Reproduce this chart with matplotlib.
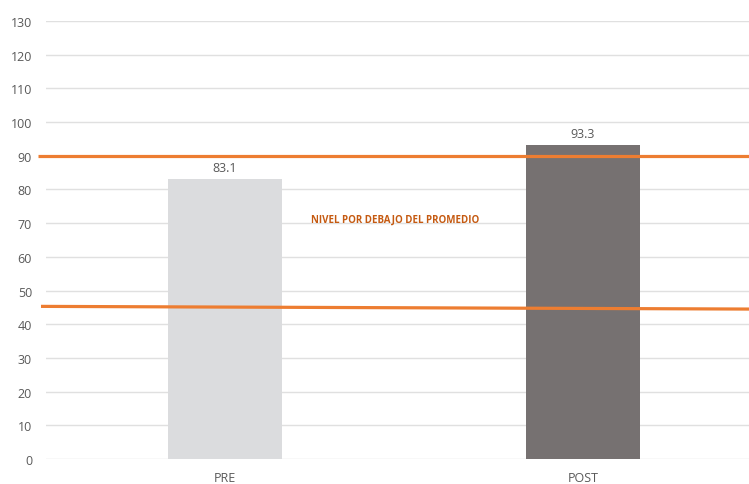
import numpy as np
import matplotlib.pyplot as plt

categories = ['PRE', 'POST']
values = [83.1, 93.3]
bar_colors = ['#DBDCDE', '#767171']

# orange reference lines (value at left end, value at right end)
upper_line = [89.8, 89.8]
lower_line = [45.3, 44.5]
note = 'NIVEL POR DEBAJO DEL PROMEDIO'

plt.rcParams['font.family'] = ['Open Sans', 'DejaVu Sans']

fig = plt.figure(figsize=(7.49, 4.85), dpi=100)
# axes runs slightly past the right edge, as in the source
ax = fig.add_axes([46/749, 25/485, 716/749, 438/485])

x = np.arange(len(categories))
bars = ax.bar(x, values, width=0.316, color=bar_colors, zorder=2)
for xi, v in zip(x, values):
    ax.text(xi, v + 1.5, f'{v:.1f}', ha='center', va='bottom',
            fontsize=9, color='#595959')

ax.set_xlim(-0.5, 1.5)
ax.set_ylim(0, 130)
ax.set_yticks(np.arange(0, 131, 10))
ax.set_xticks(x)
ax.set_xticklabels(categories)
ax.grid(axis='y', color='#E0E0E0', linewidth=1, zorder=0)
ax.set_axisbelow(True)
for s in ax.spines.values():
    s.set_visible(False)
ax.tick_params(axis='both', length=0, labelsize=9, colors='#595959')
ax.tick_params(axis='y', pad=10)
ax.tick_params(axis='x', pad=9)

x_left_up = -0.522
x_left_lo = -0.514
x_right = 1.465
ax.plot([x_left_up, x_right], upper_line, color='#ED7D31', lw=2.3,
        clip_on=False, zorder=3, solid_capstyle='butt')
ax.plot([x_left_lo, x_right], lower_line, color='#ED7D31', lw=2.3,
        clip_on=False, zorder=3, solid_capstyle='butt')

ax.text(0.475, 71.3, note, ha='center', va='center', fontsize=7,
        fontweight='bold', color='#C55A11')

fig.savefig('out.png', dpi=100)
